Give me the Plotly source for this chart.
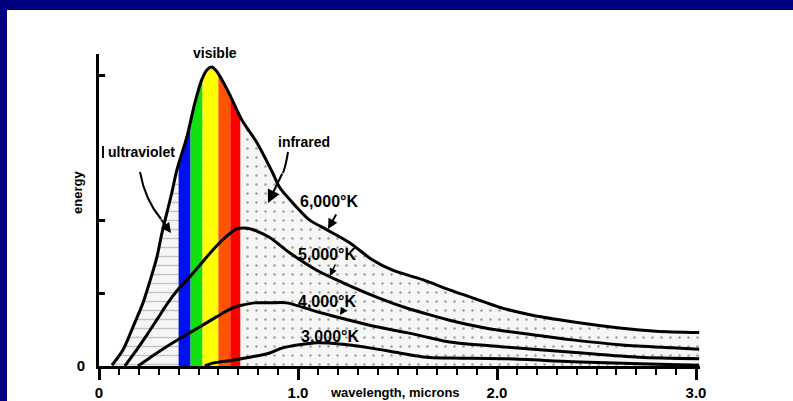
import numpy as np
import plotly.graph_objects as go

# ---------------- data ----------------
# wavelength in microns, energy in arbitrary units
x_6000 = [0.065, 0.120, 0.171, 0.221, 0.256, 0.291, 0.316, 0.341, 0.366, 0.391, 0.442, 0.482,
          0.517, 0.542, 0.567, 0.592, 0.617, 0.657, 0.718, 0.793, 0.873, 0.908, 0.973, 1.059,
          1.144, 1.259, 1.375, 1.475, 1.626, 1.761, 1.877, 2.012, 2.178, 2.378, 2.629, 2.800, 3.016]
y_6000 = [0.01, 0.22, 0.54, 0.87, 1.17, 1.50, 1.83, 2.11, 2.39, 2.70, 3.16, 3.63,
          3.95, 4.08, 4.12, 4.06, 3.95, 3.74, 3.39, 3.08, 2.66, 2.46, 2.25, 2.01,
          1.88, 1.70, 1.46, 1.32, 1.19, 1.05, 0.94, 0.81, 0.70, 0.61, 0.52, 0.48, 0.46]

x_5000 = [0.130, 0.181, 0.241, 0.296, 0.346, 0.396, 0.457, 0.507, 0.572, 0.642, 0.692, 0.743,
          0.793, 0.858, 0.958, 1.094, 1.224, 1.395, 1.545, 1.696, 1.761, 1.947, 2.178, 2.378,
          2.629, 2.880, 3.016]
y_5000 = [0.00, 0.19, 0.43, 0.66, 0.87, 1.05, 1.23, 1.39, 1.60, 1.79, 1.89, 1.90,
          1.86, 1.77, 1.56, 1.32, 1.15, 0.95, 0.80, 0.68, 0.63, 0.52, 0.43, 0.36,
          0.29, 0.25, 0.23]

x_4000 = [0.196, 0.291, 0.371, 0.457, 0.507, 0.592, 0.672, 0.723, 0.783, 0.858, 0.943, 1.094,
          1.259, 1.395, 1.545, 1.661, 1.761, 2.047, 2.378, 2.714, 3.016]
y_4000 = [0.00, 0.18, 0.32, 0.46, 0.54, 0.68, 0.80, 0.84, 0.87, 0.87, 0.87, 0.75,
          0.63, 0.54, 0.46, 0.39, 0.33, 0.26, 0.19, 0.12, 0.10]

x_3000 = [0.532, 0.572, 0.672, 0.758, 0.858, 0.923, 1.094, 1.224, 1.360, 1.510, 1.646, 1.761,
          2.047, 2.378, 2.714, 3.016]
y_3000 = [0.00, 0.04, 0.08, 0.12, 0.18, 0.25, 0.32, 0.30, 0.25, 0.18, 0.12, 0.11,
          0.10, 0.06, 0.03, 0.01]

# visible spectrum bands (microns)
band_edges = [0.40, 0.46, 0.52, 0.60, 0.66, 0.71]
band_colors = ["#0010f0", "#10e010", "#ffff00", "#ff5500", "#ff0000"]

x_tickvals = [0, 1, 2, 3]
x_ticktext = ["0", "1.0", "2.0", "3.0"]
y_tickvals = [0, 1, 2, 4]
y_ticktext = ["0", "", "", ""]

curve_labels = ["6,000°K", "5,000°K", "4,000°K", "3,000°K"]

# ---------------- layout geometry ----------------
WIDTH, HEIGHT = 793, 401
L, R, T, B = 99, 700, 54, 366
PW, PH = R - L, B - T


def P(px, py):
    return (px - L) / PW, (B - py) / PH


FONT = "Liberation Sans"

fig = go.Figure()

# stippled region under the 6000 K curve (dots)
fig.add_trace(go.Scatter(
    x=x_6000, y=y_6000, mode="lines", line=dict(width=0, shape="spline", smoothing=0.8),
    fill="tozeroy", fillcolor="#f6f6f6",
    fillpattern=dict(shape=".", fgcolor="#9c9c9c", bgcolor="#f6f6f6", size=9, solidity=0.06),
    hoverinfo="skip", showlegend=False))

# dashed texture in the ultraviolet part
x6 = np.array(x_6000)
y6 = np.array(y_6000)
uv_mask = x6 < band_edges[0]
uv_x = list(x6[uv_mask]) + [band_edges[0], band_edges[0], x6[0]]
uv_y = list(y6[uv_mask]) + [float(np.interp(band_edges[0], x6, y6)), 0, 0]
fig.add_trace(go.Scatter(
    x=uv_x, y=uv_y, mode="lines", line=dict(width=0), fill="toself", fillcolor="#f6f6f6",
    fillpattern=dict(shape="-", fgcolor="#c2c2c2", bgcolor="#f6f6f6", size=9, solidity=0.15),
    hoverinfo="skip", showlegend=False))

# coloured visible bands
for i, col in enumerate(band_colors):
    a, b = band_edges[i], band_edges[i + 1]
    m = (x6 > a) & (x6 < b)
    bx = [a, a] + list(x6[m]) + [b, b]
    by = [0, float(np.interp(a, x6, y6))] + list(y6[m]) + [float(np.interp(b, x6, y6)), 0]
    fig.add_trace(go.Scatter(x=bx, y=by, mode="lines", line=dict(width=0), fill="toself",
                             fillcolor=col, hoverinfo="skip", showlegend=False))

# black curves
for xs, ys, name in [(x_6000, y_6000, curve_labels[0]), (x_5000, y_5000, curve_labels[1]),
                     (x_4000, y_4000, curve_labels[2]), (x_3000, y_3000, curve_labels[3])]:
    fig.add_trace(go.Scatter(x=xs, y=ys, mode="lines", name=name,
                             line=dict(color="black", width=3, shape="spline", smoothing=0.8),
                             showlegend=False))

annotations = []


def text(px, py, s, size=14, angle=0):
    x, y = P(px, py)
    annotations.append(dict(x=x, y=y, xref="paper", yref="paper", text=s, showarrow=False,
                            xanchor="center", yanchor="middle", textangle=angle,
                            font=dict(family=FONT, size=size, color="black", weight="bold")))


def arrow(tail, head, width=2, size=1.0, head_style=2):
    x, y = P(*head)
    annotations.append(dict(x=x, y=y, xref="paper", yref="paper", text="", showarrow=True,
                            ax=tail[0] - head[0], ay=tail[1] - head[1], axref="pixel", ayref="pixel",
                            arrowhead=head_style, arrowwidth=width, arrowsize=size, arrowcolor="black"))


text(215, 53, "visible", 14)
text(141, 152, "ultraviolet", 14)
text(304, 142, "infrared", 14)
text(329, 201, curve_labels[0], 16)
text(327, 255, curve_labels[1], 16)
text(327, 301, curve_labels[2], 16)
text(330, 336, curve_labels[3], 16)
text(77, 193, "energy", 13, angle=-90)
text(395, 392, "wavelength, microns", 13)

arrow((160, 218), (171, 233), width=2)
arrow((283, 172), (268, 203), width=2, size=1.3)
arrow((337, 213), (328, 229), width=2)
arrow((336, 263), (330, 276), width=1.5)
arrow((345, 307), (340, 315), width=1.5)

shapes = []
# curved leader lines
ux0, uy0 = P(140, 172)
ux1, uy1 = P(145, 200)
ux2, uy2 = P(161, 219)
shapes.append(dict(type="path", xref="paper", yref="paper",
                   path=f"M {ux0},{uy0} Q {ux1},{uy1} {ux2},{uy2}",
                   line=dict(color="black", width=2)))
ix0, iy0 = P(288, 152)
ix1, iy1 = P(286, 165)
ix2, iy2 = P(283, 173)
shapes.append(dict(type="path", xref="paper", yref="paper",
                   path=f"M {ix0},{iy0} Q {ix1},{iy1} {ix2},{iy2}",
                   line=dict(color="black", width=2)))
# small bar in front of "ultraviolet"
bx0, by0 = P(103, 146)
bx1, by1 = P(103, 158)
shapes.append(dict(type="line", xref="paper", yref="paper", x0=bx0, y0=by0, x1=bx1, y1=by1,
                   line=dict(color="black", width=2)))
# navy frame (top and left)
tx0, ty0 = P(0, 0)
tx1, ty1 = P(WIDTH, 10)
shapes.append(dict(type="rect", xref="paper", yref="paper", x0=tx0, y0=ty0, x1=tx1, y1=ty1,
                   fillcolor="#000080", line=dict(width=0), layer="above"))
lx0, ly0 = P(0, 0)
lx1, ly1 = P(7, HEIGHT)
shapes.append(dict(type="rect", xref="paper", yref="paper", x0=lx0, y0=ly0, x1=lx1, y1=ly1,
                   fillcolor="#000080", line=dict(width=0), layer="above"))

fig.update_layout(
    template="none",
    width=WIDTH, height=HEIGHT,
    margin=dict(l=L, r=WIDTH - R, t=T, b=HEIGHT - B, pad=0, autoexpand=False),
    paper_bgcolor="white", plot_bgcolor="white",
    showlegend=False,
    annotations=annotations, shapes=shapes,
    xaxis=dict(range=[0, 3.02], showgrid=False, zeroline=False, showline=True, automargin=False,
               linecolor="black", linewidth=3, ticks="outside", ticklen=11, tickwidth=3,
               tickcolor="black", tickvals=x_tickvals, ticktext=x_ticktext,
               tickfont=dict(family=FONT, size=15, color="black", weight="bold"),
               minor=dict(ticks="outside", dtick=0.1, tick0=0, ticklen=6, tickwidth=2,
                          tickcolor="black", showgrid=False),
               fixedrange=True),
    yaxis=dict(range=[0, 4.3], showgrid=False, zeroline=False, showline=True, automargin=False,
               linecolor="black", linewidth=3, ticks="inside", ticklen=6, tickwidth=3,
               tickcolor="black", tickvals=y_tickvals, ticktext=y_ticktext,
               tickfont=dict(family=FONT, size=15, color="black", weight="bold"),
               ticklabelstandoff=8, fixedrange=True),
)

fig.write_html(
    "out.html",
    config={"displayModeBar": False},
    post_script="document.body.style.margin='0';document.documentElement.style.overflow='hidden';document.body.style.overflow='hidden';",
)
